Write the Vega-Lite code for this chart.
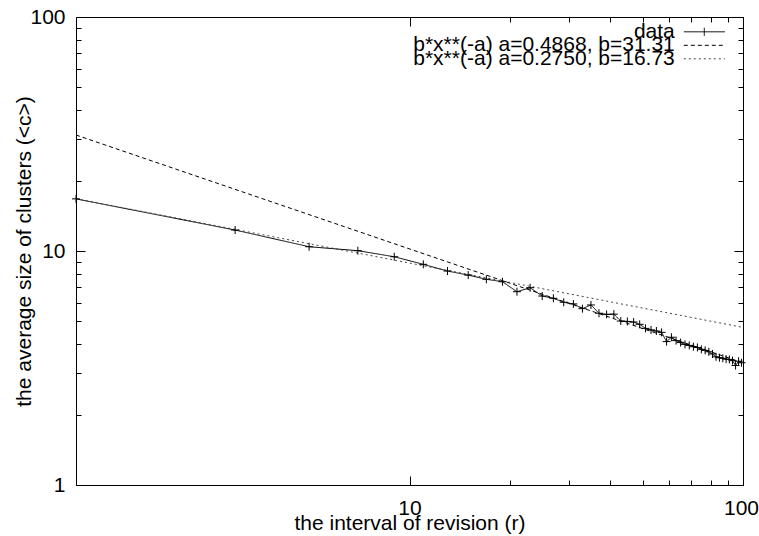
{
  "$schema": "https://vega.github.io/schema/vega-lite/v6.json",
  "width": 667,
  "height": 468,
  "autosize": {"type": "none"},
  "padding": {"left": 76, "top": 17, "right": 16, "bottom": 51},
  "background": "white",
  "config": {
    "font": "Liberation Sans",
    "view": {"stroke": null},
    "axis": {
      "grid": false,
      "domainColor": "#000",
      "domainWidth": 1,
      "tickColor": "#000",
      "tickWidth": 1,
      "labelColor": "#000",
      "titleColor": "#000",
      "labelFontSize": 21,
      "titleFontSize": 21,
      "titleFontWeight": "normal",
      "labelFlush": false,
      "labelOverlap": false,
      "labelBound": false
    },
    "legend": {
      "padding": 0,
      "offset": 0,
      "orient": "none",
      "title": null,
      "labelFontSize": 21,
      "labelColor": "#000",
      "labelLimit": 500,
      "labelAlign": "right",
      "labelOffset": -40,
      "symbolSize": 269,
      "symbolStrokeWidth": 1,
      "symbolOffset": 0
    }
  },
  "datasets": {
    "series": [
      {"series": "data", "x": 1, "y": 16.7},
      {"series": "data", "x": 3, "y": 12.29},
      {"series": "data", "x": 5, "y": 10.43},
      {"series": "data", "x": 7, "y": 10.03},
      {"series": "data", "x": 9, "y": 9.45},
      {"series": "data", "x": 11, "y": 8.77},
      {"series": "data", "x": 13, "y": 8.21},
      {"series": "data", "x": 15, "y": 7.89},
      {"series": "data", "x": 17, "y": 7.57},
      {"series": "data", "x": 19, "y": 7.39},
      {"series": "data", "x": 21, "y": 6.70},
      {"series": "data", "x": 23, "y": 6.97},
      {"series": "data", "x": 25, "y": 6.42},
      {"series": "data", "x": 27, "y": 6.28},
      {"series": "data", "x": 29, "y": 6.04},
      {"series": "data", "x": 31, "y": 5.94},
      {"series": "data", "x": 33, "y": 5.67},
      {"series": "data", "x": 35, "y": 5.88},
      {"series": "data", "x": 37, "y": 5.42},
      {"series": "data", "x": 39, "y": 5.36},
      {"series": "data", "x": 41, "y": 5.37},
      {"series": "data", "x": 43, "y": 5.02},
      {"series": "data", "x": 45, "y": 5.00},
      {"series": "data", "x": 47, "y": 4.97},
      {"series": "data", "x": 49, "y": 4.86},
      {"series": "data", "x": 51, "y": 4.67},
      {"series": "data", "x": 53, "y": 4.60},
      {"series": "data", "x": 55, "y": 4.55},
      {"series": "data", "x": 57, "y": 4.49},
      {"series": "data", "x": 59, "y": 4.10},
      {"series": "data", "x": 61, "y": 4.28},
      {"series": "data", "x": 63, "y": 4.14},
      {"series": "data", "x": 65, "y": 4.06},
      {"series": "data", "x": 67, "y": 3.99},
      {"series": "data", "x": 69, "y": 3.95},
      {"series": "data", "x": 71, "y": 3.90},
      {"series": "data", "x": 73, "y": 3.87},
      {"series": "data", "x": 75, "y": 3.80},
      {"series": "data", "x": 77, "y": 3.76},
      {"series": "data", "x": 79, "y": 3.71},
      {"series": "data", "x": 81, "y": 3.63},
      {"series": "data", "x": 83, "y": 3.53},
      {"series": "data", "x": 85, "y": 3.50},
      {"series": "data", "x": 87, "y": 3.48},
      {"series": "data", "x": 89, "y": 3.45},
      {"series": "data", "x": 91, "y": 3.44},
      {"series": "data", "x": 93, "y": 3.40},
      {"series": "data", "x": 95, "y": 3.24},
      {"series": "data", "x": 97, "y": 3.38},
      {"series": "data", "x": 99, "y": 3.33},
      {"series": "b*x**(-a) a=0.4868, b=31.31", "x": 1, "y": 31.31},
      {"series": "b*x**(-a) a=0.4868, b=31.31", "x": 100, "y": 3.328},
      {"series": "b*x**(-a) a=0.2750, b=16.73", "x": 1, "y": 16.73},
      {"series": "b*x**(-a) a=0.2750, b=16.73", "x": 100, "y": 4.715}
    ]
  },
  "data": {"name": "series"},
  "layer": [
    {
      "transform": [{"filter": "datum.series == 'data'"}],
      "mark": {"type": "line", "strokeWidth": 1, "color": "#000", "clip": true},
      "encoding": {
        "x": {
          "field": "x", "type": "quantitative",
          "scale": {"type": "log", "domain": [1, 100], "nice": false},
          "axis": {
            "orient": "bottom",
            "values": [1, 10, 20, 30, 40, 50, 60, 70, 80, 90, 100],
            "format": "d",
            "labelExpr": "datum.value == 10 || datum.value == 100 ? datum.label : ''",
            "tickSize": {"condition": {"test": "datum.value == 1 || datum.value == 10 || datum.value == 100", "value": -9}, "value": -5},
            "labelPadding": 21,
            "labelOffset": {"condition": {"test": "datum.value == 100", "value": -2}, "value": 0},
            "title": "the interval of revision (r)",
            "titlePadding": -10
          }
        },
        "y": {
          "field": "y", "type": "quantitative",
          "scale": {"type": "log", "domain": [1, 100], "nice": false},
          "axis": {
            "orient": "left",
            "values": [1, 2, 3, 4, 5, 6, 7, 8, 9, 10, 20, 30, 40, 50, 60, 70, 80, 90, 100],
            "format": "d",
            "labelExpr": "datum.value == 1 || datum.value == 10 || datum.value == 100 ? datum.label : ''",
            "tickSize": {"condition": {"test": "datum.value == 1 || datum.value == 10 || datum.value == 100", "value": -9}, "value": -5},
            "labelPadding": 20,
            "title": "the average size of clusters (<c>)",
            "titlePadding": -5
          }
        },
        "strokeDash": {
          "field": "series", "type": "nominal",
          "scale": {"domain": ["data"], "range": [[1, 0]]},
          "legend": {
            "legendX": 617.8,
            "legendY": 4.3,
            "symbolType": "M-2.5,0H2.5M0,-0.5V0.5",
            "symbolStrokeColor": "#000"
          }
        }
      }
    },
    {
      "transform": [{"filter": "datum.series == 'b*x**(-a) a=0.4868, b=31.31'"}],
      "mark": {"type": "line", "strokeWidth": 1, "color": "#000", "clip": true},
      "encoding": {
        "x": {"field": "x", "type": "quantitative", "axis": null},
        "y": {"field": "y", "type": "quantitative", "axis": null},
        "strokeDash": {
          "field": "series", "type": "nominal",
          "scale": {"domain": ["b*x**(-a) a=0.4868, b=31.31"], "range": [[4, 3]]},
          "legend": {
            "legendX": 617.8,
            "legendY": 17.8,
            "symbolType": "M-2.5,0H2.5",
            "symbolStrokeColor": "#000"
          }
        }
      }
    },
    {
      "transform": [{"filter": "datum.series == 'b*x**(-a) a=0.2750, b=16.73'"}],
      "mark": {"type": "line", "strokeWidth": 1, "color": "#444", "clip": true},
      "encoding": {
        "x": {"field": "x", "type": "quantitative", "axis": null},
        "y": {"field": "y", "type": "quantitative", "axis": null},
        "strokeDash": {
          "field": "series", "type": "nominal",
          "scale": {"domain": ["b*x**(-a) a=0.2750, b=16.73"], "range": [[2, 3]]},
          "legend": {
            "legendX": 617.8,
            "legendY": 31.3,
            "symbolType": "M-2.5,0H2.5",
            "symbolStrokeColor": "#444"
          }
        }
      }
    },
    {
      "transform": [{"filter": "datum.series == 'data'"}],
      "mark": {"type": "point", "shape": "M-1,0H1M0,-1V1", "filled": false, "size": 64, "stroke": "#000", "strokeWidth": 1, "opacity": 1},
      "encoding": {
        "x": {
          "field": "x", "type": "quantitative",
          "axis": {
            "orient": "top",
            "values": [1, 10, 20, 30, 40, 50, 60, 70, 80, 90, 100],
            "labels": false,
            "tickSize": {"condition": {"test": "datum.value == 1 || datum.value == 10 || datum.value == 100", "value": -9}, "value": -5},
            "title": null
          }
        },
        "y": {
          "field": "y", "type": "quantitative",
          "axis": {
            "orient": "right",
            "values": [1, 2, 3, 4, 5, 6, 7, 8, 9, 10, 20, 30, 40, 50, 60, 70, 80, 90, 100],
            "labels": false,
            "tickSize": {"condition": {"test": "datum.value == 1 || datum.value == 10 || datum.value == 100", "value": -9}, "value": -5},
            "title": null
          }
        }
      }
    }
  ],
  "resolve": {"axis": {"x": "independent", "y": "independent"}, "scale": {"strokeDash": "independent"}}
}
